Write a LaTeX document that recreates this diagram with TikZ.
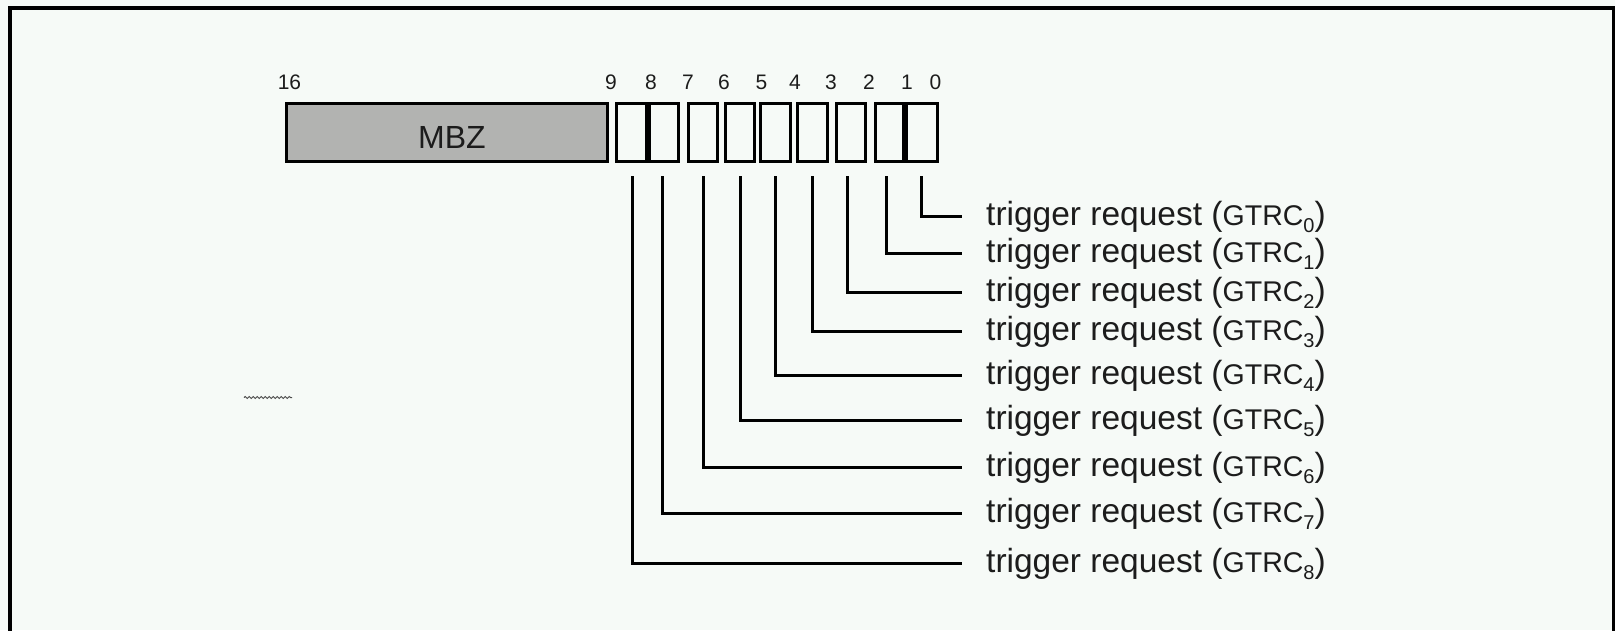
\documentclass[tikz,border=0pt]{standalone}
\usepackage{fontspec}
\setmainfont{Liberation Sans}
\usetikzlibrary{decorations.pathmorphing}
\definecolor{bg}{RGB}{246,250,247}
\definecolor{mbzgray}{RGB}{178,179,177}
\definecolor{ink}{RGB}{28,28,28}
\newcommand{\trg}[1]{trigger request ({\fontsize{28.5}{30}\selectfont GTRC}\raisebox{-7.5pt}{\fontsize{20}{22}\selectfont #1})}
\begin{document}
\begin{tikzpicture}[x=1pt,y=-1pt,
  bitbox/.style={draw=black, line width=3pt, fill=bg, minimum height=58pt, inner sep=0pt},
  mbzbox/.style={bitbox, fill=mbzgray},
  bitlabel/.style={font=\fontsize{21}{23}\selectfont, text=ink, inner sep=0pt, anchor=base},
  wire/.style={draw=black, line width=3pt},
  trig/.style={font=\fontsize{33.5}{36}\selectfont, text=ink, inner sep=0pt, anchor=base west},
  frame/.style={draw=black, line width=4pt}]
\useasboundingbox[fill=bg] (0,0) rectangle (1615,630);
\draw[frame] (9.5,632) -- (9.5,7.5) -- (1614,7.5) -- (1614,632);
% register
\node[mbzbox, minimum width=321pt] (mbz) at (447,132.5) {};
\node[font=\fontsize{32}{34}\selectfont, text=ink, inner sep=0pt, anchor=base] (mbzt) at (452,148.5) {MBZ};
\node[bitbox, minimum width=30pt] (b8) at (631.5,132.5) {};
\node[bitbox, minimum width=29pt] (b7) at (664,132.5) {};
\node[bitbox, minimum width=29pt] (b6) at (703,132.5) {};
\node[bitbox, minimum width=29pt] (b5) at (740,132.5) {};
\node[bitbox, minimum width=30pt] (b4) at (775.5,132.5) {};
\node[bitbox, minimum width=30pt] (b3) at (812.5,132.5) {};
\node[bitbox, minimum width=29pt] (b2) at (851,132.5) {};
\node[bitbox, minimum width=28pt] (b1) at (889.5,132.5) {};
\node[bitbox, minimum width=31pt] (b0) at (922,132.5) {};
% bit numbers
\node[bitlabel] (l16) at (289.5,89) {16};
\node[bitlabel] (l9) at (611,89) {9};
\node[bitlabel] (l8) at (651,89) {8};
\node[bitlabel] (l7) at (688,89) {7};
\node[bitlabel] (l6) at (724,89) {6};
\node[bitlabel] (l5) at (761.5,89) {5};
\node[bitlabel] (l4) at (795,89) {4};
\node[bitlabel] (l3) at (831,89) {3};
\node[bitlabel] (l2) at (869,89) {2};
\node[bitlabel] (l1) at (907,89) {1};
\node[bitlabel] (l0) at (935.5,89) {0};
% labels
\node[trig] (t0) at (986,225) {\trg{0}};
\node[trig] (t1) at (986,262) {\trg{1}};
\node[trig] (t2) at (986,301) {\trg{2}};
\node[trig] (t3) at (986,340) {\trg{3}};
\node[trig] (t4) at (986,384) {\trg{4}};
\node[trig] (t5) at (986,429) {\trg{5}};
\node[trig] (t6) at (986,476) {\trg{6}};
\node[trig] (t7) at (986,522) {\trg{7}};
\node[trig] (t8) at (986,572) {\trg{8}};
% connector ends
\coordinate (s0) at (921.5,176); \coordinate (e0) at (962,216);
\coordinate (s1) at (886,176);   \coordinate (e1) at (962,253);
\coordinate (s2) at (847,176);   \coordinate (e2) at (962,292);
\coordinate (s3) at (812,176);   \coordinate (e3) at (962,331);
\coordinate (s4) at (775,176);   \coordinate (e4) at (962,375);
\coordinate (s5) at (740,176);   \coordinate (e5) at (962,420);
\coordinate (s6) at (703,176);   \coordinate (e6) at (962,467);
\coordinate (s7) at (662,176);   \coordinate (e7) at (962,513);
\coordinate (s8) at (632,176);   \coordinate (e8) at (962,563);
\foreach \i in {0,...,8} {\draw[wire] (s\i) |- (e\i);}
% small squiggle
\coordinate (q1) at (244,397.5); \coordinate (q2) at (292,397.5);
\draw[draw=black!70, line width=1pt, decorate, decoration={snake, segment length=4pt, amplitude=1pt}] (q1) -- (q2);
\end{tikzpicture}
\end{document}
